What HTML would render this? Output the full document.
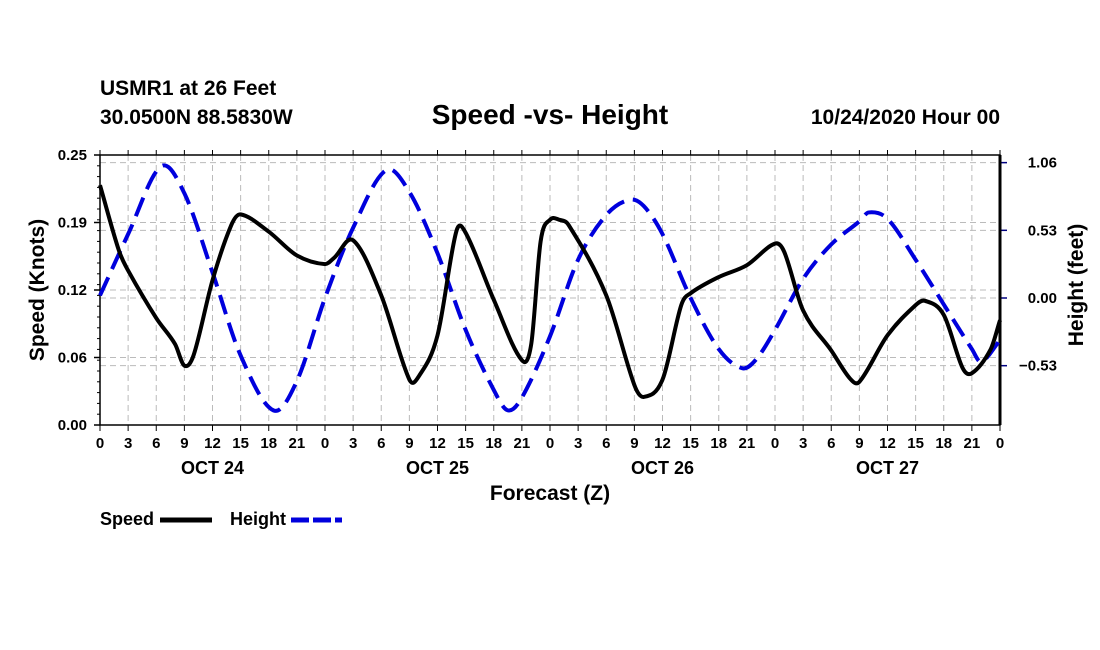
<!DOCTYPE html>
<html><head><meta charset="utf-8"><style>
html,body{margin:0;padding:0;background:#fff;}
svg{display:block;font-family:"Liberation Sans",sans-serif;font-weight:bold;}
</style></head><body>
<svg id="chart" width="1100" height="650">
<text x="100" y="95" font-size="21">USMR1 at 26 Feet</text>
<text x="100" y="124" font-size="21">30.0500N 88.5830W</text>
<text x="550" y="124" font-size="28" text-anchor="middle">Speed -vs- Height</text>
<text x="1000" y="124" font-size="21" text-anchor="end">10/24/2020 Hour 00</text>
<g id="grid"></g><g id="axes"></g><g id="series"></g>
<text transform="translate(44,290) rotate(-90)" font-size="21" text-anchor="middle">Speed (Knots)</text>
<text transform="translate(1083,285) rotate(-90)" font-size="21" text-anchor="middle">Height (feet)</text>
<text x="550" y="500" font-size="21" text-anchor="middle">Forecast (Z)</text>
<g>
<text x="100" y="525" font-size="18">Speed</text>
<line x1="160" y1="520" x2="212" y2="520" stroke="#000" stroke-width="5"/>
<text x="230" y="525" font-size="18">Height</text>
<line x1="291" y1="520" x2="342" y2="520" stroke="#0000dd" stroke-width="5" stroke-dasharray="18,4"/>
</g>
</svg>
<script>
const speedHours=[0,2,3,6,8,9,10,12,14,15,18,21,24,25,27,30,33,34,36,38,39,42,45,46,47,48,49,50,54,57,58,60,62,63,66,69,72,73,75,78,80,81,84,87,88,90,92,93,95,96];
const speedValues=[0.222,0.162,0.143,0.099,0.075,0.055,0.065,0.134,0.185,0.195,0.179,0.157,0.149,0.155,0.171,0.12,0.042,0.045,0.083,0.179,0.178,0.116,0.06,0.075,0.17,0.19,0.19,0.185,0.12,0.037,0.026,0.042,0.111,0.122,0.137,0.148,0.168,0.16,0.106,0.069,0.043,0.04,0.083,0.111,0.115,0.102,0.053,0.048,0.07,0.097];
const heightHours=[0,3,6.5,9,12,15,18.5,21,24,27,30.5,33,36,39,42,43.5,45,48,51,54,56.5,58,60,63,66,68.5,70,72,75,78,81,82,84,87,90,93,94,96];
const heightValues=[0.02,0.5,1.03,0.82,0.2,-0.45,-0.88,-0.65,0.0,0.55,1.0,0.83,0.35,-0.25,-0.72,-0.88,-0.78,-0.3,0.3,0.65,0.77,0.72,0.5,0.0,-0.4,-0.55,-0.48,-0.25,0.15,0.42,0.6,0.67,0.62,0.3,-0.05,-0.4,-0.5,-0.33];
const speedTicks=[0,0.0625,0.125,0.1875,0.25];
const speedTickLabels=["0.00","0.06","0.12","0.19","0.25"];
const heightTicks=[-0.53,0,0.53,1.06];
const heightTickLabels=["\u22120.53","0.00","0.53","1.06"];
const dayLabels=["OCT 24","OCT 25","OCT 26","OCT 27"];
const L=100,R=1000,T=155,B=425;
const xs=h=>L+h*(R-L)/96;
const ys=v=>B-v*(B-T)/0.25;
const yh=v=>298-v*127.7;
const NS="http://www.w3.org/2000/svg";
function mk(tag,attrs,parent){const e=document.createElementNS(NS,tag);for(const k in attrs)e.setAttribute(k,attrs[k]);parent.appendChild(e);return e;}
const grid=document.getElementById('grid'),axes=document.getElementById('axes'),series=document.getElementById('series');
for(let h=3;h<96;h+=3){const g=mk('line',{x1:xs(h),x2:xs(h),y1:T,y2:B,stroke:'#bbb','stroke-dasharray':'6,4'},grid);

}
speedTicks.forEach((v,i)=>{if(i>0&&i<4){const g=mk('line',{x1:L,x2:R,y1:ys(v),y2:ys(v),stroke:'#bbb','stroke-dasharray':'6,4'},grid);

}
const t=mk('text',{x:L-13,y:ys(v)+5,'font-size':15,'text-anchor':'end'},axes);t.textContent=speedTickLabels[i];


mk('line',{x1:L-6,x2:L,y1:ys(v),y2:ys(v),stroke:'#000','stroke-width':1.5},axes);});
for(let k=0;k<=25;k++){const y=B-k*(B-T)/25;mk('line',{x1:L-3,x2:L,y1:y,y2:y,stroke:'#000'},axes);}
heightTicks.forEach((v,i)=>{const g=mk('line',{x1:L,x2:R,y1:yh(v),y2:yh(v),stroke:'#bbb','stroke-dasharray':'6,4'},grid);


mk('line',{x1:R,x2:R+7,y1:yh(v),y2:yh(v),stroke:'#000080','stroke-width':1.5},axes);
const t=mk('text',{x:1057,y:yh(v)+5,'font-size':15,'text-anchor':'end'},axes);t.textContent=heightTickLabels[i];

});
for(let h=0;h<=96;h+=3){mk('line',{x1:xs(h),x2:xs(h),y1:B,y2:B+6,stroke:'#000'},axes);mk('line',{x1:xs(h),x2:xs(h),y1:T,y2:T-5,stroke:'#000'},axes);
const t=mk('text',{x:xs(h),y:B+23,'font-size':15,'text-anchor':'middle'},axes);t.textContent=String(h%24);

}
dayLabels.forEach((d,i)=>{const t=mk('text',{x:xs(12+24*i),y:B+49,'font-size':18,'text-anchor':'middle'},axes);t.textContent=d;

});
const fr=mk('rect',{x:L,y:T,width:R-L,height:B-T,fill:'none',stroke:'#000','stroke-width':1.5},axes);


mk('line',{x1:R,x2:R,y1:T,y2:B,stroke:'#000','stroke-width':3},axes);
function path(hs,vs,yf){const p=hs.map((h,i)=>[xs(h),yf(vs[i])]);const n=p.length;
const m=p.map((q,i)=>{const a=p[Math.max(0,i-1)],b=p[Math.min(n-1,i+1)];return (b[1]-a[1])/(b[0]-a[0]);});
let d='M'+p[0][0]+','+p[0][1];
for(let i=0;i<n-1;i++){const dx=(p[i+1][0]-p[i][0])/3;
d+=' C'+(p[i][0]+dx)+','+(p[i][1]+m[i]*dx)+' '+(p[i+1][0]-dx)+','+(p[i+1][1]-m[i+1]*dx)+' '+p[i+1][0]+','+p[i+1][1];}return d;}
const hp=mk('path',{d:path(heightHours,heightValues,yh),fill:'none',stroke:'#0000dd','stroke-width':4,'stroke-dasharray':'20,9'},series);


const sp=mk('path',{d:path(speedHours,speedValues,ys),fill:'none',stroke:'#000','stroke-width':4},series);


</script>
</body></html>
